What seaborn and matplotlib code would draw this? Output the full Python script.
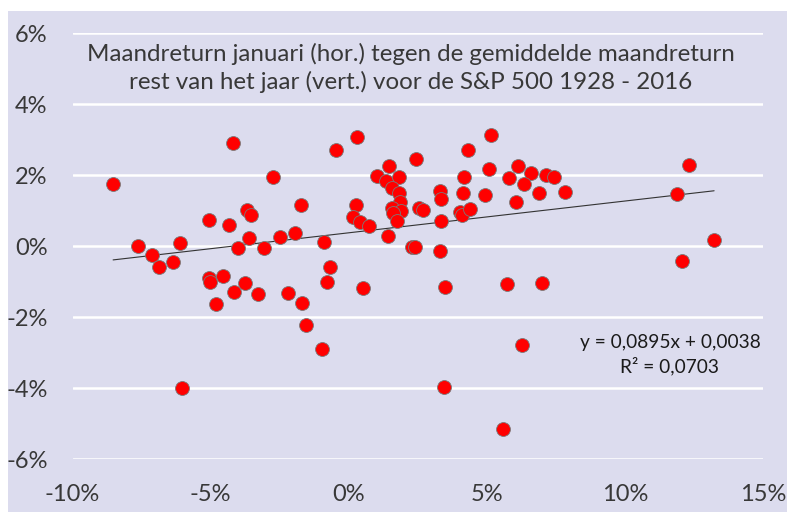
import numpy as np
import pandas as pd
import seaborn as sns
import matplotlib.pyplot as plt
from matplotlib.patches import Rectangle
from matplotlib.ticker import FuncFormatter

# january return (x, %) vs. avg monthly return rest of year (y, %), S&P 500 1928-2016
jan_return = [-4.19, -8.53, -7.62, -7.12, -6.86, -6.37, -6.12, -5.04, -4.33, -3.67,
              -3.52, -3.62, -4.02, -3.06, -5.06, -5.01, -4.54, -3.77, -4.14, -4.79,
              -3.27, -2.49, -1.96, -2.74, -1.73, -0.89, -0.46, 0.31, 0.26, 0.14,
              0.41, 0.73, 1.43, 1.02, 1.46, 1.36, 1.83, 1.57, 1.81, 1.85,
              1.56, 1.89, 1.60, 1.74, 2.45, 2.56, 2.69, 2.29, 2.39, -0.69,
              -0.80, 0.50, -2.18, -1.69, -1.54, -0.98, -6.02, 4.33, 5.16, 4.18,
              5.08, 5.81, 6.14, 6.59, 7.14, 7.44, 6.34, 3.30, 3.35, 4.13,
              4.94, 6.89, 7.83, 6.06, 4.03, 4.10, 4.39, 3.35, 3.29, 3.50,
              5.72, 7.00, 12.07, 6.28, 3.44, 5.59, 12.31, 11.88, 13.23]
rest_return = [2.91, 1.76, 0.00, -0.25, -0.57, -0.45, 0.08, 0.75, 0.60, 1.01,
               0.88, 0.22, -0.06, -0.06, -0.90, -1.01, -0.83, -1.04, -1.28, -1.62,
               -1.34, 0.25, 0.37, 1.95, 1.15, 0.11, 2.70, 3.08, 1.15, 0.82,
               0.68, 0.56, 0.28, 1.98, 2.25, 1.83, 1.96, 1.63, 1.49, 1.24,
               1.08, 1.00, 0.94, 0.72, 2.47, 1.07, 1.03, -0.01, -0.01, -0.57,
               -1.01, -1.17, -1.32, -1.59, -2.21, -2.89, -3.98, 2.72, 3.14, 1.95,
               2.18, 1.92, 2.26, 2.07, 2.01, 1.95, 1.75, 1.55, 1.32, 1.49,
               1.45, 1.49, 1.53, 1.26, 0.97, 0.87, 1.06, 0.72, -0.14, -1.14,
               -1.06, -1.04, -0.41, -2.77, -3.97, -5.16, 2.30, 1.48, 0.17]

# trendline as reported in the chart (fractions)
slope = 0.0895
intercept = 0.0038
r_squared = 0.0703

title = ("Maandreturn januari (hor.) tegen de gemiddelde maandreturn\n"
         "rest van het jaar (vert.) voor de S&P 500 1928 - 2016")

bg = "#dcdcee"
txt = "#383838"

df = pd.DataFrame({"jan": jan_return, "rest": rest_return})
xs = np.array([min(jan_return), max(jan_return)])
trend = pd.DataFrame({"jan": xs, "rest": (slope * xs / 100 + intercept) * 100})

sns.set_style("whitegrid", {"axes.facecolor": bg, "grid.color": "white",
                            "axes.edgecolor": bg})
plt.rcParams["font.family"] = ["Lato", "DejaVu Sans"]

fig = plt.figure(figsize=(7.87, 5.12), dpi=100)
fig.patches.append(Rectangle((8 / 787, 0), 1, 1 - 11 / 512, transform=fig.transFigure,
                             facecolor=bg, edgecolor="none", zorder=-10))
ax = fig.add_axes([72.5 / 787, 1 - 459.3 / 512, (763 - 72.5) / 787, (459.3 - 33.3) / 512])

sns.lineplot(data=trend, x="jan", y="rest", ax=ax, color="#333333", lw=0.8, zorder=2)
sns.scatterplot(data=df, x="jan", y="rest", ax=ax, color="#ff0000", s=100,
                edgecolor="#7a7a7a", linewidth=0.6, zorder=3)

ax.set_xlim(-10, 15)
ax.set_ylim(-6, 6)
ax.set_xticks(np.arange(-10, 16, 5))
ax.set_yticks(np.arange(-6, 7, 2))
ax.xaxis.set_major_formatter(FuncFormatter(lambda v, p: f"{v:.0f}%"))
ax.yaxis.set_major_formatter(FuncFormatter(lambda v, p: f"{v:.0f}%"))
ax.grid(axis="x", visible=False)
ax.grid(axis="y", color="white", lw=1.8)
ax.tick_params(length=0, labelsize=17, labelcolor=txt)
ax.tick_params(axis="y", pad=18)
ax.tick_params(axis="x", pad=18)
ax.set_xlabel("")
ax.set_ylabel("")
for s in ax.spines.values():
    s.set_visible(False)

fig.text(411 / 787, 1 - 68 / 512, title, ha="center", va="center", fontsize=17.4,
         color=txt, linespacing=1.3)
fig.text(670 / 787, 1 - 355 / 512,
         f"y = {slope:.4f}x + {intercept:.4f}".replace(".", ",") + "\n"
         + f"R² = {r_squared:.4f}".replace(".", ","),
         ha="center", va="center", fontsize=13.8, color="#1a1a1a", linespacing=1.35)

fig.savefig("out.png", dpi=100, facecolor="white")
